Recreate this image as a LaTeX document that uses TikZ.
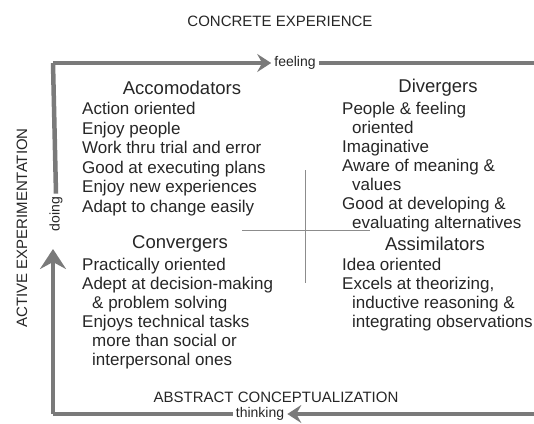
\documentclass[tikz,border=0pt]{standalone}
\usepackage{fontspec}
\setmainfont{Liberation Sans}
\usetikzlibrary{arrows.meta}
\begin{document}
\begin{tikzpicture}[x=1pt,y=-1pt,
  flow/.style={draw=black!52, line width=4.5pt},
  tip/.style={-{Stealth[length=14pt,width=18pt,inset=5pt]}},
  bigtip/.style={-{Stealth[length=20pt,width=26pt,inset=7pt]}},
  mode/.style={font=\fontsize{15}{15}\selectfont, text=black!85, inner sep=0pt},
  small/.style={font=\fontsize{14}{14}\selectfont, text=black!85, inner sep=3pt},
  qtitle/.style={font=\fontsize{18.5}{18.5}\selectfont, text=black!85, inner sep=0pt},
  items/.style={font=\fontsize{17}{19.5}\selectfont, text=black!85, align=left, anchor=north west, inner sep=0pt},
  itemsb/.style={items, font=\fontsize{17}{19}\selectfont},
  axis/.style={draw=black!45, line width=0.8pt}]
\useasboundingbox (0,0) rectangle (534,423);

% corners
\coordinate (tl) at (53,63);
\coordinate (tr) at (534,63);
\coordinate (bl) at (53,414);
\coordinate (br) at (534,414);

% mode labels
\node[mode] (ce) at (280,21) {CONCRETE EXPERIENCE};
\node[mode] (ac) at (276,397) {ABSTRACT CONCEPTUALIZATION};
\node[mode, rotate=90] (ae) at (22,228) {ACTIVE EXPERIMENTATION};

\node[small] (feel) at (295,63) {feeling};
\node[small] (think) at (260,414) {thinking};
\node[small, rotate=90] (doing) at (56,214) {doing};
\coordinate (dtip) at (53,249);

% cycle
\draw[flow, tip] (tl) -- (feel.west);
\draw[flow] (feel.east) -- (tr);
\draw[flow] (doing.east) -- (tl);
\draw[flow, bigtip] (bl) -- (dtip);
\draw[flow] (think.west) -- (bl);
\draw[flow, tip] (br) -- (think.east);

% cross
\coordinate (vt) at (305,170);
\coordinate (vb) at (305,283);
\coordinate (hl) at (242,230);
\coordinate (hr) at (370,230);
\draw[axis] (vt) -- (vb);
\draw[axis] (hl) -- (hr);

% quadrants
\node[qtitle] (acc) at (182,88) {Accomodators};
\node[items] (accl) at (82,102) {Action oriented\\Enjoy people\\Work thru trial and error\\Good at executing plans\\Enjoy new experiences\\Adapt to change easily};

\node[qtitle] (div) at (438,88) {Divergers};
\node[itemsb] (divl) at (342,102) {People \& feeling\\\hspace*{10pt}oriented\\Imaginative\\Aware of meaning \&\\\hspace*{10pt}values\\Good at developing \&\\\hspace*{10pt}evaluating alternatives};

\node[qtitle] (con) at (180,244) {Convergers};
\node[itemsb] (conl) at (82,258) {Practically oriented\\Adept at decision-making\\\hspace*{10pt}\& problem solving\\Enjoys technical tasks\\\hspace*{10pt}more than social or\\\hspace*{10pt}interpersonal ones};

\node[qtitle] (ass) at (435,244) {Assimilators};
\node[itemsb] (assl) at (342,258) {Idea oriented\\Excels at theorizing,\\\hspace*{10pt}inductive reasoning \&\\\hspace*{10pt}integrating observations};
\end{tikzpicture}
\end{document}
